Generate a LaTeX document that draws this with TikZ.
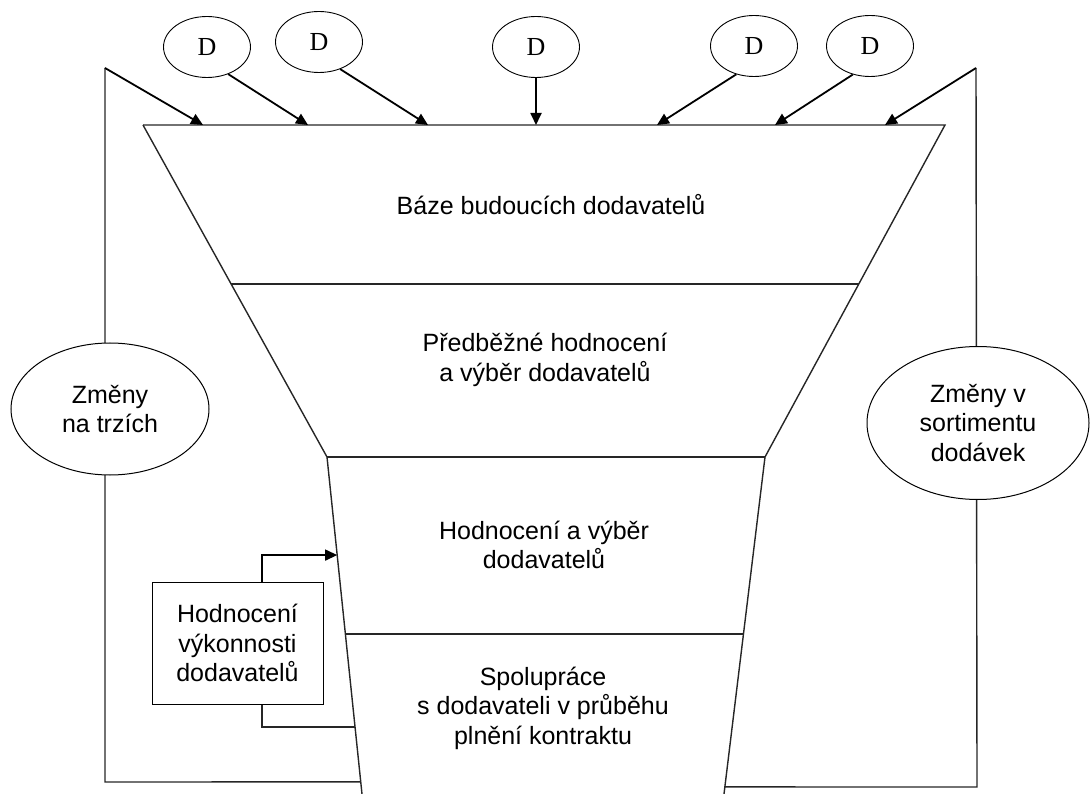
\documentclass[tikz,border=0pt]{standalone}
\usepackage{fontspec}
\setmainfont{Liberation Sans}
\newfontfamily\dfont{Liberation Serif}
\usetikzlibrary{shapes.geometric,arrows.meta,calc}

\begin{document}
\begin{tikzpicture}[x=1pt,y=-1pt,font=\fontsize{25}{29.5}\selectfont]

	% Styles
	\tikzstyle{dod} = [draw,ellipse,line width=0.9pt,minimum width=87pt,minimum height=61pt,inner sep=0pt,font=\dfont\fontsize{26}{30}\selectfont]
	\tikzstyle{zmena} = [draw,ellipse,fill=white,line width=1pt,inner sep=0pt,align=center]
	\tikzstyle{edge} = [line width=1.4pt,draw=black!85]
	\tikzstyle{arrow} = [line width=1.8pt,-{Triangle[length=12pt,width=11pt]}]
	\tikzstyle{stage} = [align=center]

	\useasboundingbox (0,0) rectangle (1090,794);

	% Trichter
	\coordinate (tl) at (143,125);
	\coordinate (tr) at (945,125);
	\coordinate (ml) at (327,457);
	\coordinate (mr) at (765,457);
	\coordinate (bl) at (362,794);
	\coordinate (br) at (724,794);
	\draw[edge] (tl) -- (tr) -- (mr) -- (br);
	\draw[edge] (tl) -- (ml) -- (bl);
	\draw[edge] ($(tl)!0.479!(ml)$) -- ($(tr)!0.479!(mr)$);
	\draw[edge] (ml) -- (mr);
	\draw[edge] ($(ml)!0.525!(bl)$) -- ($(mr)!0.525!(br)$);

	% Stufen
	\node [stage] (baze) at (551,205) {Báze budoucích dodavatelů};
	\node [stage] (pred) at (545,360) {Předběžné hodnocení\\a výběr dodavatelů};
	\node [stage] (hodn) at (544,545) {Hodnocení a výběr\\dodavatelů};
	\node [stage] (spol) at (543,708) {Spolupráce\\s dodavateli v průběhu\\plnění kontraktu};

	% Lieferanten
	\node at (207,47) [dod] (d1) {D};
	\node at (319,42) [dod] (d2) {D};
	\node at (536,47) [dod] (d3) {D};
	\node at (754,46) [dod] (d4) {D};
	\node at (870,46) [dod] (d5) {D};
	\coordinate (t0) at (203,125);
	\coordinate (t1) at (308,125);
	\coordinate (t2) at (428,125);
	\coordinate (t3) at (536,125);
	\coordinate (t4) at (657,125);
	\coordinate (t5) at (775,125);
	\coordinate (t6) at (885,125);
	\draw[arrow] (d1.-52) -- (t1);
	\draw[arrow] (d2.-52) -- (t2);
	\draw[arrow] (d3) -- (t3);
	\draw[arrow] (d4.-122) -- (t4);
	\draw[arrow] (d5.-121) -- (t5);

	% Rahmen links und rechts
	\coordinate (fl) at (105,68);
	\coordinate (flb) at (105,782);
	\coordinate (lb) at ($(ml)!0.964!(bl)$);
	\coordinate (fr) at (976,68);
	\coordinate (frb) at (977,787);
	\coordinate (rb) at ($(mr)!0.979!(br)$);
	\draw[edge] (lb) -- (flb) -- (fl);
	\draw[arrow] (fl) -- (t0);
	\draw[edge] (rb) -- (frb) -- (fr);
	\draw[arrow] (fr) -- (t6);
	\node at (110,409) [zmena,minimum width=198pt,minimum height=132pt] (trhy) {Změny\\na trzích};
	\node at (978,423) [zmena,minimum width=222pt,minimum height=153pt] (sort) {Změny v\\sortimentu\\dodávek};

	% Hodnoceni vykonnosti
	\node at (237.5,643) [draw,fill=white,line width=1pt,minimum width=171pt,minimum height=122pt,align=center] (vykon) {Hodnocení\\výkonnosti\\dodavatelů};
	\coordinate (vstup) at ($(ml)!0.291!(bl)$);
	\coordinate (zpet) at ($(ml)!0.801!(bl)$);
	\draw[arrow,line width=1.4pt] ([xshift=24.5pt]vykon.north) |- (vstup);
	\draw[edge] ([xshift=24.5pt]vykon.south) |- (zpet);

\end{tikzpicture}
\end{document}
